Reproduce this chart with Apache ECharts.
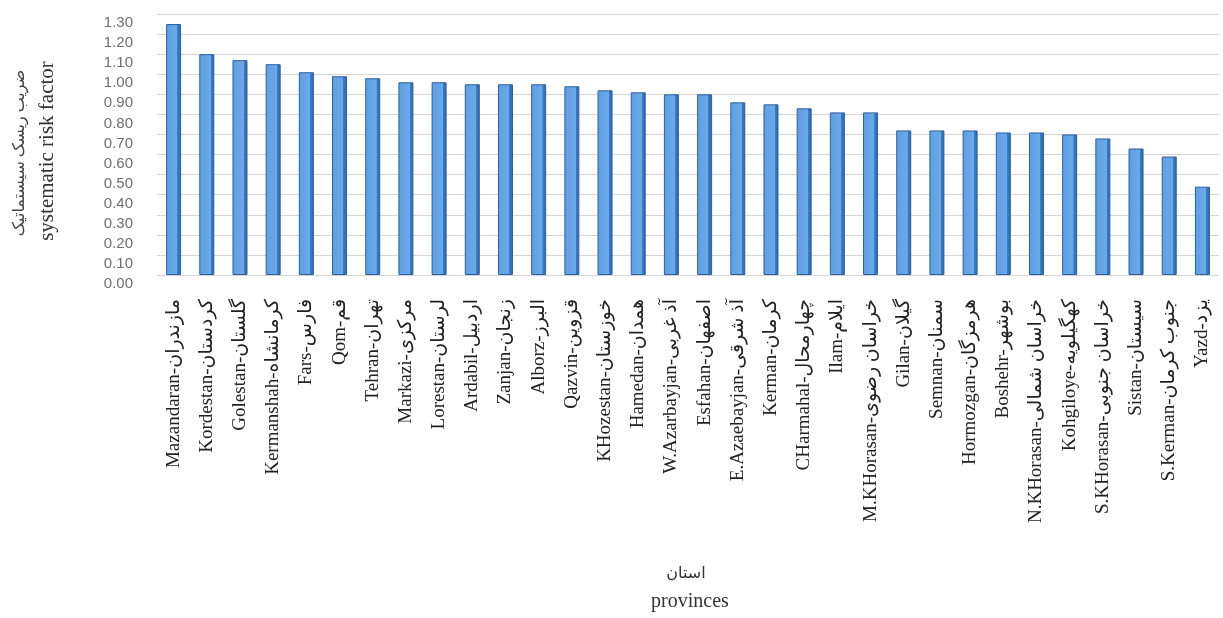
<!DOCTYPE html>
<html>
<head>
<meta charset="utf-8">
<script src="https://cdn.jsdelivr.net/npm/echarts@6/dist/echarts.min.js"></script>
<style>
  html, body { margin: 0; padding: 0; background: #fff; }
  #chart { width: 1223px; height: 618px; }
</style>
</head>
<body>
<div id="chart"></div>
<script>
// provinces, latin name + persian name
const provincesEn = [
  'Mazandaran', 'Kordestan', 'Golestan', 'Kermanshah', 'Fars', 'Qom', 'Tehran', 'Markazi',
  'Lorestan', 'Ardabil', 'Zanjan', 'Alborz', 'Qazvin', 'KHozestan', 'Hamedan', 'W.Azarbayjan',
  'Esfahan', 'E.Azaebayjan', 'Kerman', 'CHarmahal', 'Ilam', 'M.KHorasan', 'Gilan', 'Semnan',
  'Hormozgan', 'Boshehr', 'N.KHorasan', 'Kohgiloye', 'S.KHorasan', 'Sistan', 'S.Kerman', 'Yazd'
]
const provincesFa = [
  'مازندران', 'کردستان', 'گلستان', 'کرمانشاه', 'فارس', 'قم', 'تهران', 'مرکزی',
  'لرستان', 'اردبیل', 'زنجان', 'البرز', 'قزوین', 'خوزستان', 'همدان', 'آذ غربی',
  'اصفهان', 'آذ شرقی', 'کرمان', 'چهارمحال', 'ایلام', 'خراسان رضوی', 'گیلان', 'سمنان',
  'هرمزگان', 'بوشهر', 'خراسان شمالی', 'کهگیلویه', 'خراسان جنوبی', 'سیستان', 'جنوب کرمان', 'یزد'
]
// systematic risk factor (beta) per province
const riskFactor = [
  1.25, 1.10, 1.07, 1.05, 1.01, 0.99, 0.98, 0.96,
  0.96, 0.95, 0.95, 0.95, 0.94, 0.92, 0.91, 0.90,
  0.90, 0.86, 0.85, 0.83, 0.81, 0.81, 0.72, 0.72,
  0.72, 0.71, 0.71, 0.70, 0.68, 0.63, 0.59, 0.44
]
const yMin = 0
const yMax = 1.3
const yStep = 0.1

const yTitleFa = 'ضریب ریسک سیستماتیک'
const yTitleEn = 'systematic risk factor'
const xTitleFa = 'استان'
const xTitleEn = 'provinces'

const serif = '"Liberation Serif", "DejaVu Sans", serif'

const categories = provincesEn.map((en, i) => en + '-' + provincesFa[i])

const chart = echarts.init(document.getElementById('chart'))

const option = {
  animation: false,
  backgroundColor: '#ffffff',
  grid: { left: 157, right: 4, top: 14, bottom: 343 },
  xAxis: {
    type: 'category',
    data: categories,
    axisLine: { show: false },
    axisTick: { show: false },
    axisLabel: {
      rotate: 90,
      margin: 24,
      interval: 0,
      fontFamily: serif,
      fontSize: 19,
      color: '#222',
    },
  },
  yAxis: {
    type: 'value',
    min: yMin,
    max: yMax,
    interval: yStep,
    axisLine: { show: false },
    axisTick: { show: false },
    axisLabel: {
      margin: 24,
      showMinLabel: true,
      showMaxLabel: true,
      fontFamily: '"Liberation Sans Narrow", "Liberation Sans", sans-serif',
      fontSize: 15,
      color: '#6f6f6f',
      verticalAlign: 'top',
      lineHeight: 18,
      formatter: (v) => v.toFixed(2),
    },
    splitLine: { lineStyle: { color: '#d6d6d6', width: 1 } },
  },
  graphic: [
    {
      type: 'text',
      x: 20,
      y: 153,
      rotation: Math.PI / 2,
      style: { text: yTitleFa, font: '16px ' + serif, fill: '#444', align: 'center', verticalAlign: 'middle' },
    },
    {
      type: 'text',
      x: 47,
      y: 151,
      rotation: Math.PI / 2,
      style: { text: yTitleEn, font: '21px ' + serif, fill: '#333', align: 'center', verticalAlign: 'middle' },
    },
    {
      type: 'text',
      x: 686,
      y: 574,
      style: { text: xTitleFa, font: '16px ' + serif, fill: '#333', align: 'center', verticalAlign: 'middle' },
    },
    {
      type: 'text',
      x: 690,
      y: 602,
      style: { text: xTitleEn, font: '20px ' + serif, fill: '#333', align: 'center', verticalAlign: 'middle' },
    },
  ],
  series: [
    {
      type: 'bar',
      data: riskFactor,
      barWidth: 15,
      itemStyle: {
        color: {
          type: 'linear', x: 0, y: 0, x2: 1, y2: 0,
          colorStops: [
            { offset: 0, color: '#5f9fe0' },
            { offset: 0.75, color: '#6aa9ea' },
            { offset: 0.76, color: '#3d7cc4' },
            { offset: 1, color: '#2f67a8' },
          ],
        },
        borderColor: '#2d5f9c',
        borderWidth: 1,
      },
    },
  ],
}

chart.setOption(option)
</script>
</body>
</html>
